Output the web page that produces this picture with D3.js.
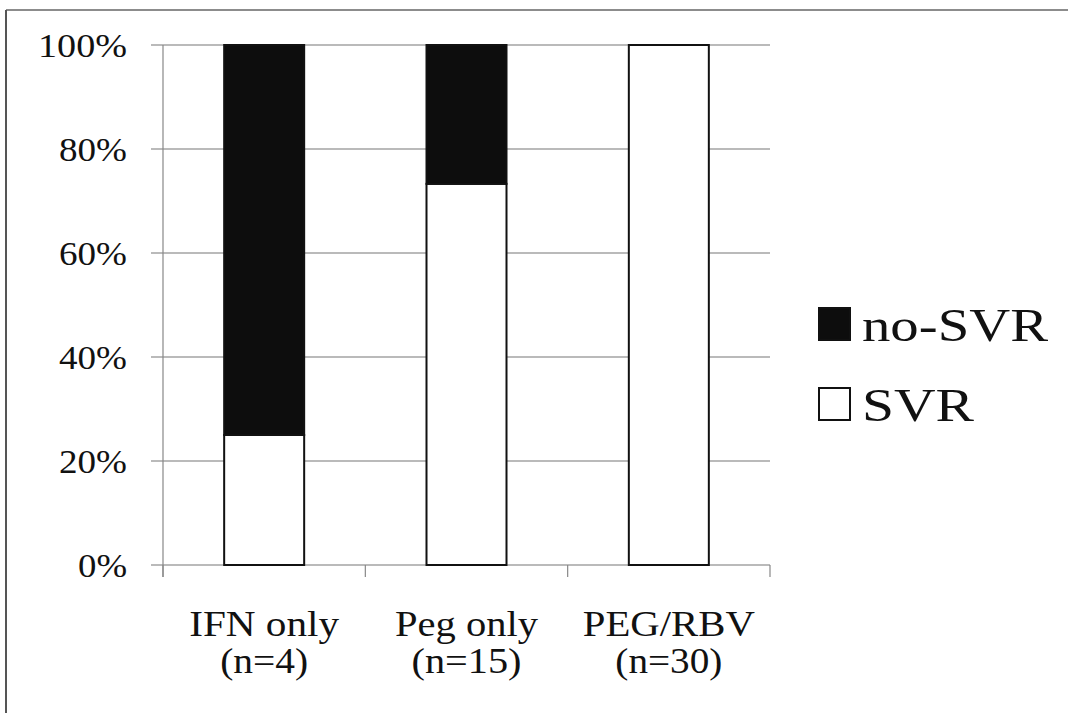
<!DOCTYPE html>
<html>
<head>
<meta charset="utf-8">
<script src="https://cdn.jsdelivr.net/npm/d3@7"></script>
<style>
  html, body { margin: 0; padding: 0; background: #fff; }
  svg { display: block; }
</style>
</head>
<body>
<svg id="chart" width="1068" height="713"></svg>
<script>
const categories = ["IFN only|(n=4)", "Peg only|(n=15)", "PEG/RBV|(n=30)"];
const svrValues = [25, 73.3, 100];
const noSvrValues = [75, 26.7, 0];
const seriesNames = ["no-SVR", "SVR"];
const yTicks = [0, 20, 40, 60, 80, 100];

const FONT = "'Liberation Serif', 'Times New Roman', Times, 'DejaVu Serif', 'Noto Serif', 'FreeSerif', 'Nimbus Roman', 'Noto Serif CJK JP', serif";
const svg = d3.select("#chart");
const W = 1068, H = 713;
const plot = { left: 163, right: 770, top: 45, bottom: 565 };

// outer frame (top and left edges visible)
svg.append("line").attr("x1", 6).attr("x2", W).attr("y1", 10).attr("y2", 10)
  .attr("stroke", "#666").attr("stroke-width", 1.5);
svg.append("line").attr("x1", 6).attr("x2", 6).attr("y1", 10).attr("y2", H)
  .attr("stroke", "#555").attr("stroke-width", 2);

const x = d3.scaleBand().domain(categories).range([plot.left, plot.right]);
const y = d3.scaleLinear().domain([0, 100]).range([plot.bottom, plot.top]);

// gridlines
svg.append("g").selectAll("line").data(yTicks).join("line")
  .attr("x1", plot.left - 12).attr("x2", plot.right)
  .attr("y1", d => y(d)).attr("y2", d => y(d))
  .attr("stroke", "#777").attr("stroke-width", 1.2);

// y axis line
svg.append("line").attr("x1", plot.left).attr("x2", plot.left)
  .attr("y1", plot.top).attr("y2", plot.bottom + 12)
  .attr("stroke", "#888").attr("stroke-width", 1.2);

// x category ticks (band boundaries)
const xTickPos = categories.map(c => x(c)).concat([x(categories[categories.length - 1]) + x.bandwidth()]);
svg.append("g").selectAll("line").data(xTickPos).join("line")
  .attr("x1", d => d).attr("x2", d => d)
  .attr("y1", plot.bottom).attr("y2", plot.bottom + 12)
  .attr("stroke", "#888").attr("stroke-width", 1.2);

// y tick labels
svg.append("g").selectAll("text").data(yTicks).join("text")
  .attr("x", 127).attr("y", d => y(d) + 12)
  .attr("text-anchor", "end")
  .attr("font-family", FONT).attr("fill", "#111")
  .attr("font-size", 34)
  .attr("textLength", d => d === 100 ? 89 : d === 0 ? 49 : 68)
  .attr("lengthAdjust", "spacingAndGlyphs")
  .text(d => d + "%");

// bars
const barW = 80;
const barG = svg.append("g");
categories.forEach((c, i) => {
  const cx = x(c) + x.bandwidth() / 2;
  const x0 = cx - barW / 2;
  barG.append("rect")
    .attr("x", x0).attr("width", barW)
    .attr("y", y(svrValues[i])).attr("height", y(0) - y(svrValues[i]))
    .attr("fill", "#fff").attr("stroke", "#111").attr("stroke-width", 2);
  if (noSvrValues[i] > 0) {
    barG.append("rect")
      .attr("x", x0).attr("width", barW)
      .attr("y", y(svrValues[i] + noSvrValues[i])).attr("height", y(0) - y(noSvrValues[i]))
      .attr("fill", "#0d0d0d").attr("stroke", "#111").attr("stroke-width", 2);
  }
});

// x labels
const line1W = [150, 143, 172];
const line2W = [88, 110, 107];
const xl = svg.append("g");
categories.forEach((c, i) => {
  const cx = x(c) + x.bandwidth() / 2;
  const parts = c.split("|");
  xl.append("text").attr("x", cx).attr("y", 636).attr("text-anchor", "middle")
    .attr("font-family", FONT).attr("fill", "#111")
    .attr("font-size", 35)
    .attr("textLength", line1W[i]).attr("lengthAdjust", "spacingAndGlyphs")
    .text(parts[0]);
  xl.append("text").attr("x", cx).attr("y", 673).attr("text-anchor", "middle")
    .attr("font-family", FONT).attr("fill", "#111")
    .attr("font-size", 35)
    .attr("textLength", line2W[i]).attr("lengthAdjust", "spacingAndGlyphs")
    .text(parts[1]);
});

// legend
const leg = svg.append("g");
const legY = [308, 388];
const legFill = ["#0d0d0d", "#fff"];
const legW = [186, 112];
seriesNames.forEach((n, i) => {
  leg.append("rect").attr("x", 819).attr("y", legY[i]).attr("width", 31).attr("height", 32)
    .attr("fill", legFill[i]).attr("stroke", "#111").attr("stroke-width", 2);
  leg.append("text").attr("x", 862).attr("y", legY[i] + 33)
    .attr("font-family", FONT).attr("fill", "#111")
    .attr("font-size", 46)
    .attr("textLength", legW[i]).attr("lengthAdjust", "spacingAndGlyphs")
    .text(n);
});
</script>
</body>
</html>
